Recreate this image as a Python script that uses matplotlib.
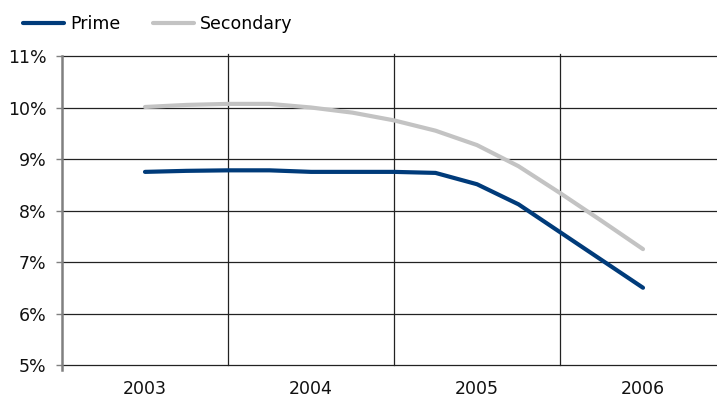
import matplotlib
matplotlib.use("Agg")
import matplotlib.pyplot as plt
import numpy as np

# Quarterly readings, 2003 Q1 through 2006 Q1 (percent)
quarters = ["2003Q1", "2003Q2", "2003Q3", "2003Q4",
            "2004Q1", "2004Q2", "2004Q3", "2004Q4",
            "2005Q1", "2005Q2", "2005Q3", "2005Q4", "2006Q1"]
prime = [8.75, 8.77, 8.78, 8.78, 8.75, 8.75, 8.75, 8.73,
         8.51, 8.12, 7.58, 7.04, 6.50]
secondary = [10.01, 10.05, 10.07, 10.07, 10.00, 9.90, 9.75, 9.55,
             9.27, 8.86, 8.34, 7.80, 7.25]
years = ["2003", "2004", "2005", "2006"]
y_ticks = [5, 6, 7, 8, 9, 10, 11]

W, H, DPI = 717, 401, 100
fig = plt.figure(figsize=(W / DPI, H / DPI), dpi=DPI)
plt.rcParams["font.family"] = ["DejaVu Sans"]

left_px, top_px, bottom_px = 62, 56, 365
ax = fig.add_axes([left_px / W, 1 - bottom_px / H,
                   1 - left_px / W, (bottom_px - top_px) / H])

x = np.arange(len(quarters)) / 4.0
blue = "#003b7a"
grey = "#c3c3c3"
ax.plot(x, prime, color=blue, lw=3.0, solid_capstyle="round",
        label="Prime", zorder=3)
ax.plot(x, secondary, color=grey, lw=3.0, solid_capstyle="round",
        label="Secondary", zorder=3)

cat_px = 166.0
ax.set_xlim(-0.5, -0.5 + (W - left_px) / cat_px)
ax.set_ylim(5, 11)

# horizontal gridlines
for v in y_ticks:
    ax.axhline(v, color="#222222", lw=0.9, zorder=1, clip_on=False)
# vertical separators between years
for b in [0.5, 1.5, 2.5]:
    ax.plot([b, b], [5, 11.04], color="#222222", lw=0.9,
            clip_on=False, zorder=1)

for s in ["top", "right", "bottom"]:
    ax.spines[s].set_visible(False)
ax.spines["left"].set_color("#808080")
ax.spines["left"].set_linewidth(1.8)
ax.spines["left"].set_bounds(4.9, 11)
ax.spines["left"].set_zorder(4)

ax.set_yticks(y_ticks)
ax.set_yticklabels([f"{v}%" for v in y_ticks])
ax.tick_params(axis="y", length=4, width=1, color="#808080",
               pad=7, labelsize=12.5, labelcolor="#111111")

ax.set_xticks(range(len(years)))
ax.set_xticklabels(years)
ax.tick_params(axis="x", length=0, pad=11, labelsize=12.5,
               labelcolor="#111111")

fig.legend(loc="center left", bbox_to_anchor=(23 / W, 1 - 24 / H),
           ncol=2, frameon=False, fontsize=12.5, handlelength=2.35,
           handletextpad=0.35, columnspacing=1.9, borderpad=0,
           borderaxespad=0)

fig.savefig("out.png", dpi=DPI)
